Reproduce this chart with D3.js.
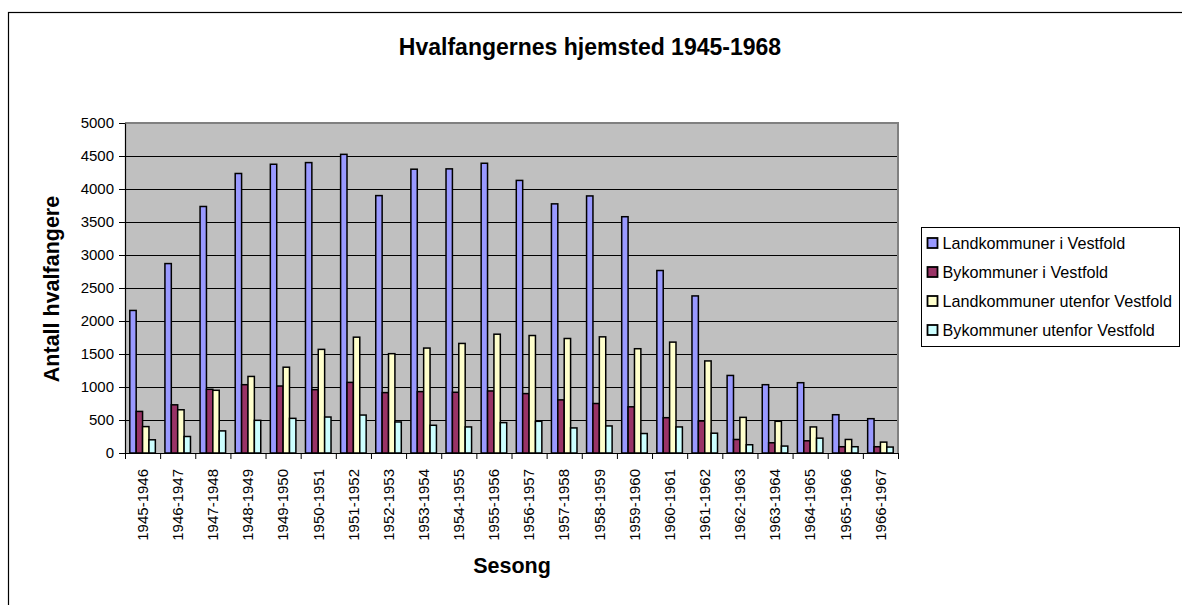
<!DOCTYPE html>
<html>
<head>
<meta charset="utf-8">
<script src="https://cdn.jsdelivr.net/npm/d3@7"></script>
<style>
  body { margin: 0; background: #fff; }
  svg { display: block; font-family: Arial, "Liberation Sans", sans-serif; }
</style>
</head>
<body>
<div id="chart"></div>
<script>
// seasons on the x axis
var seasons = ["1945-1946", "1946-1947", "1947-1948", "1948-1949", "1949-1950", "1950-1951",
  "1951-1952", "1952-1953", "1953-1954", "1954-1955", "1955-1956", "1956-1957", "1957-1958",
  "1958-1959", "1959-1960", "1960-1961", "1961-1962", "1962-1963", "1963-1964", "1964-1965",
  "1965-1966", "1966-1967"];

var seriesNames = ["Landkommuner i Vestfold", "Bykommuner i Vestfold",
  "Landkommuner utenfor Vestfold", "Bykommuner utenfor Vestfold"];

var landVestfold = [2160, 2870, 3735, 4235, 4375, 4400, 4525, 3900, 4300, 4305, 4390, 4130,
  3775, 3895, 3580, 2765, 2380, 1175, 1035, 1065, 580, 520];
var byVestfold = [630, 730, 965, 1035, 1015, 960, 1070, 915, 930, 920, 940, 900,
  805, 750, 700, 535, 485, 205, 155, 185, 95, 95];
var landUtenfor = [400, 655, 950, 1160, 1300, 1570, 1755, 1505, 1590, 1660, 1800, 1780,
  1735, 1760, 1580, 1680, 1395, 540, 480, 395, 205, 165];
var byUtenfor = [200, 250, 335, 495, 525, 545, 575, 470, 420, 395, 460, 480,
  380, 410, 295, 395, 300, 125, 105, 225, 95, 90];

var yTicks = [0, 500, 1000, 1500, 2000, 2500, 3000, 3500, 4000, 4500, 5000];

var colors = ["#9999ff", "#993366", "#ffffcc", "#ccffff"];

var allSeries = [landVestfold, byVestfold, landUtenfor, byUtenfor];

var W = 1182, H = 605;
var plot = { left: 125, top: 123, right: 898, bottom: 453 };

var svg = d3.select("#chart").append("svg")
  .attr("width", W)
  .attr("height", H);

// outer chart border (runs off the right/bottom edges)
svg.append("rect")
  .attr("x", 8.5).attr("y", 12.5)
  .attr("width", 1300).attr("height", 700)
  .attr("fill", "#fff")
  .attr("stroke", "#000")
  .attr("stroke-width", 1.2);

// plot area background
svg.append("rect")
  .attr("x", plot.left).attr("y", plot.top)
  .attr("width", plot.right - plot.left)
  .attr("height", plot.bottom - plot.top)
  .attr("fill", "#c0c0c0");

var y = d3.scaleLinear().domain([0, 5000]).range([plot.bottom, plot.top]);

// Excel style clusters: gap width 150% of a bar
var x0 = d3.scaleBand()
  .domain(seasons)
  .range([plot.left, plot.right])
  .paddingInner(1.5 / 5.5)
  .paddingOuter(0.75 / 5.5);

var x1 = d3.scaleBand()
  .domain(d3.range(allSeries.length))
  .range([0, x0.bandwidth()]);

// gridlines
svg.append("g")
  .selectAll("line")
  .data(yTicks.slice(1, -1))
  .join("line")
  .attr("x1", plot.left).attr("x2", plot.right)
  .attr("y1", function (d) { return Math.round(y(d)) + 0.5; })
  .attr("y2", function (d) { return Math.round(y(d)) + 0.5; })
  .attr("stroke", "#000")
  .attr("stroke-width", 1);

// plot border (grey top/right)
svg.append("path")
  .attr("d", "M" + plot.left + "," + plot.top + "H" + plot.right + "V" + plot.bottom)
  .attr("fill", "none")
  .attr("stroke", "#808080")
  .attr("stroke-width", 2);

// bars
var groups = svg.append("g")
  .selectAll("g")
  .data(seasons)
  .join("g")
  .attr("transform", function (d) { return "translate(" + x0(d) + ",0)"; });

groups.selectAll("rect")
  .data(function (d, i) {
    return allSeries.map(function (s, k) { return { k: k, v: s[i] }; });
  })
  .join("rect")
  .attr("x", function (d) { return x1(d.k); })
  .attr("width", x1.bandwidth())
  .attr("y", function (d) { return y(d.v); })
  .attr("height", function (d) { return y(0) - y(d.v); })
  .attr("fill", function (d) { return colors[d.k]; })
  .attr("stroke", "#000")
  .attr("stroke-width", 1.5);

// y axis
var yAxis = svg.append("g")
  .attr("transform", "translate(" + plot.left + ",0)")
  .call(d3.axisLeft(y).tickValues(yTicks).tickSize(6).tickSizeOuter(0).tickPadding(5)
    .tickFormat(d3.format("d")));
yAxis.select(".domain").attr("stroke", "#000").attr("stroke-width", 1.2);
yAxis.selectAll("text").attr("font-size", 15).attr("font-family", "Arial, 'Liberation Sans', sans-serif").attr("fill", "#000");

// x axis, ticks at category boundaries
var xi = d3.scaleLinear().domain([0, seasons.length]).range([plot.left, plot.right]);
var xAxis = svg.append("g")
  .attr("transform", "translate(0," + plot.bottom + ")")
  .call(d3.axisBottom(xi).tickValues(d3.range(seasons.length + 1)).tickSize(6)
    .tickSizeOuter(0).tickFormat(""));
xAxis.select(".domain").attr("stroke", "#000").attr("stroke-width", 1.2);

svg.append("g")
  .selectAll("text")
  .data(seasons)
  .join("text")
  .attr("transform", function (d) {
    return "translate(" + (x0(d) + x0.bandwidth() / 2) + "," + (plot.bottom + 16) + ") rotate(-90)";
  })
  .attr("text-anchor", "end")
  .attr("dy", "0.35em")
  .attr("font-size", 15)
  .text(function (d) { return d; });

// titles
svg.append("text")
  .attr("x", 590).attr("y", 55)
  .attr("text-anchor", "middle")
  .attr("font-size", 23)
  .attr("font-weight", "bold")
  .text("Hvalfangernes hjemsted 1945-1968");

svg.append("text")
  .attr("transform", "translate(59,289) rotate(-90)")
  .attr("text-anchor", "middle")
  .attr("font-size", 21.5)
  .attr("font-weight", "bold")
  .text("Antall hvalfangere");

svg.append("text")
  .attr("x", 512).attr("y", 573)
  .attr("text-anchor", "middle")
  .attr("font-size", 21.5)
  .attr("font-weight", "bold")
  .text("Sesong");

// legend
var legend = svg.append("g").attr("transform", "translate(921.5,227.5)");
legend.append("rect")
  .attr("width", 258).attr("height", 119)
  .attr("fill", "#fff")
  .attr("stroke", "#000")
  .attr("stroke-width", 1);

var items = legend.selectAll("g")
  .data(seriesNames)
  .join("g")
  .attr("transform", function (d, i) { return "translate(6," + (15.5 + i * 29) + ")"; });

items.append("rect")
  .attr("x", 0).attr("y", -5)
  .attr("width", 10).attr("height", 10)
  .attr("fill", function (d, i) { return colors[i]; })
  .attr("stroke", "#000")
  .attr("stroke-width", 1.8);

items.append("text")
  .attr("x", 15)
  .attr("dy", "0.35em")
  .attr("font-size", 16.2)
  .text(function (d) { return d; });
</script>
</body>
</html>
